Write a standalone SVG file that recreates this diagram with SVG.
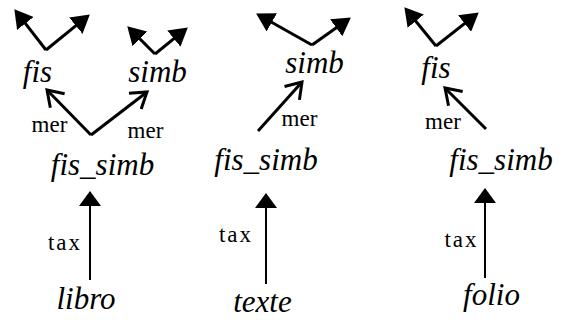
<svg xmlns="http://www.w3.org/2000/svg" width="563" height="320" viewBox="0 0 563 320">
<style>
.n{font-family:"Liberation Serif","Times New Roman",serif;font-style:italic;font-size:31px;fill:#000;text-anchor:middle}
.l{font-family:"Liberation Serif","Times New Roman",serif;font-size:23px;fill:#000;text-anchor:middle}
.t{letter-spacing:2px;font-size:23px}
.e{stroke:#000;stroke-width:3;fill:none}
.tx{stroke:#000;stroke-width:2;fill:none}
.top{marker-end:url(#fh)}
.mer{marker-end:url(#oh)}
.tax{marker-end:url(#th)}
</style>
<defs>
<marker id="fh" markerUnits="userSpaceOnUse" viewBox="0 0 18 21" refX="14" refY="10.5" markerWidth="18" markerHeight="21" orient="auto">
<path d="M0,0 L18,10.5 L0,21 z" fill="#000"/>
</marker>
<marker id="oh" markerUnits="userSpaceOnUse" viewBox="0 0 22 26" refX="18" refY="13" markerWidth="22" markerHeight="26" orient="auto" overflow="visible">
<path d="M3,3 L18,13 L3,23" fill="none" stroke="#000" stroke-width="3"/>
</marker>
<marker id="th" markerUnits="userSpaceOnUse" viewBox="0 0 15 22" refX="14" refY="11" markerWidth="15" markerHeight="22" orient="auto">
<path d="M0,0 L15,11 L0,22 z" fill="#000"/>
</marker>
</defs>
<rect width="563" height="320" fill="#fff"/>
<g id="connectors">
<polyline class="e top" points="46,50 16.8,12.4"/>
<polyline class="e top" points="46,50 86.7,16.9"/>
<polyline class="e top" points="155,54 130.1,29.1"/>
<polyline class="e top" points="155,54 184.7,29.9"/>
<polyline class="e mer" points="91,135 47,90"/>
<polyline class="e mer" points="91,135 147,92"/>
<polyline class="tx tax" points="90,280 90,192"/>
<polyline class="e top" points="312,45 259.6,15.5"/>
<polyline class="e top" points="312,45 347.6,19.7"/>
<polyline class="e mer" points="258,131 302,82"/>
<polyline class="tx tax" points="266,284 266,194"/>
<polyline class="e top" points="436,46 406.9,10.3"/>
<polyline class="e top" points="436,46 475.6,14.9"/>
<polyline class="e mer" points="486,129 445,88"/>
<polyline class="tx tax" points="485,278 485,189"/>
</g>
<g id="edge-labels">
<text class="l" x="49.5" y="132">mer</text>
<text class="l" x="145.5" y="138">mer</text>
<text class="l t" x="65" y="250">tax</text>
<text class="l" x="299.5" y="126">mer</text>
<text class="l t" x="236" y="242">tax</text>
<text class="l" x="443" y="129">mer</text>
<text class="l t" x="461.5" y="247">tax</text>
</g>
<g id="fis-1"><text class="n" x="37.5" y="82">fis</text></g>
<g id="simb-1"><text class="n" x="157.5" y="82">simb</text></g>
<g id="fis_simb-1"><text class="n" x="102.5" y="175">fis_simb</text></g>
<g id="libro"><text class="n" x="86" y="309">libro</text></g>
<g id="simb-2"><text class="n" x="314.5" y="73">simb</text></g>
<g id="fis_simb-2"><text class="n" x="266" y="170">fis_simb</text></g>
<g id="texte"><text class="n" x="262.5" y="312">texte</text></g>
<g id="fis-3"><text class="n" x="436" y="78">fis</text></g>
<g id="fis_simb-3"><text class="n" x="501" y="170">fis_simb</text></g>
<g id="folio"><text class="n" x="491.5" y="305">folio</text></g>
</svg>
